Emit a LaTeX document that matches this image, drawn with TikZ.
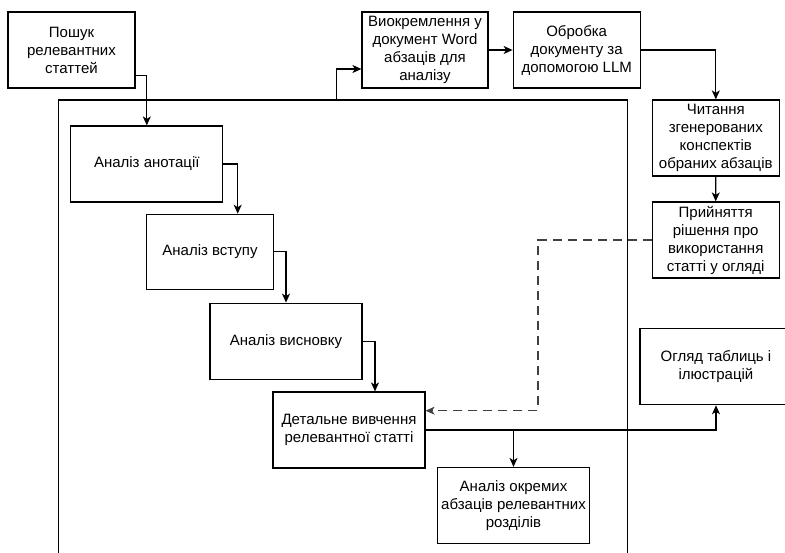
\documentclass[tikz,border=0pt]{standalone}
\usepackage{fontspec}
\setmainfont{Liberation Sans}
\usetikzlibrary{arrows.meta}
\begin{document}
\begin{tikzpicture}[x=1pt,y=-1pt,
  box/.style={draw,line width=1.2pt,align=center,inner sep=2pt,
    minimum height=76pt,font=\fontsize{15}{18}\selectfont},
  narrow/.style={box,minimum width=127pt},
  wide/.style={box,minimum width=152pt},
  arr/.style={line width=1.2pt,-{Stealth[length=9pt,width=8pt,inset=2.5pt]}},
  dsh/.style={arr,dash pattern=on 9pt off 6pt,draw=black!75}]
\useasboundingbox (0,0) rectangle (785,553);
\clip (0,0) rectangle (785,553);
% container
\node[draw,line width=1.2pt,minimum width=568.8pt,minimum height=540pt,inner sep=0pt] (container) at (343.1,370) {};
% boxes
\node[narrow] (poshuk) at (71.5,50) {Пошук\\релевантних\\статтей};
\node[narrow,minimum width=126pt] (vyokr) at (425,50) {Виокремлення у\\документ Word\\абзаців для\\аналізу};
\node[narrow] (obrobka) at (576.7,50) {Обробка\\документу за\\допомогою LLM};
\node[narrow] (chytannia) at (715.8,138) {Читання\\згенерованих\\конспектів\\обраних абзаців};
\node[narrow] (pryiniattia) at (715.7,240) {Прийняття\\рішення про\\використання\\статті у огляді};
\node[wide] (ohliad) at (716,366.7) {Огляд таблиць і\\ілюстрацій};
\node[wide] (anotatsii) at (146.8,164) {Аналіз анотації};
\node[narrow,minimum height=75pt] (vstupu) at (210,251.8) {Аналіз вступу};
\node[wide] (vysnovku) at (286,341.2) {Аналіз висновку};
\node[wide] (detalne) at (349,430) {Детальне вивчення\\релевантної статті};
\node[wide] (okremykh) at (513.5,505.5) {Аналіз окремих\\абзаців релевантних\\розділів};
% connectors
\draw[arr] ([yshift=-25.7pt]poshuk.east) -| (anotatsii.north);
\draw[arr] ([xshift=-6.4pt]container.north) |- ([yshift=-19pt]vyokr.west);
\draw[arr] (vyokr.east) -- (obrobka.west);
\draw[arr] (obrobka.east) -| (chytannia.north);
\draw[arr] (chytannia.south) -- (pryiniattia.north);
\draw[dsh] (pryiniattia.west) -- ++(-113.6,0) |- ([yshift=19.3pt]detalne.east);
\draw[arr] (anotatsii.east) -| ([xshift=27.7pt]vstupu.north);
\draw[arr] (vstupu.east) -| (vysnovku.north);
\draw[arr] (vysnovku.east) -| ([xshift=26pt]detalne.north);
\draw[arr] (detalne.east) -| (ohliad.south);
\draw[arr] (detalne.east -| okremykh.north) -- (okremykh.north);
\end{tikzpicture}
\end{document}
